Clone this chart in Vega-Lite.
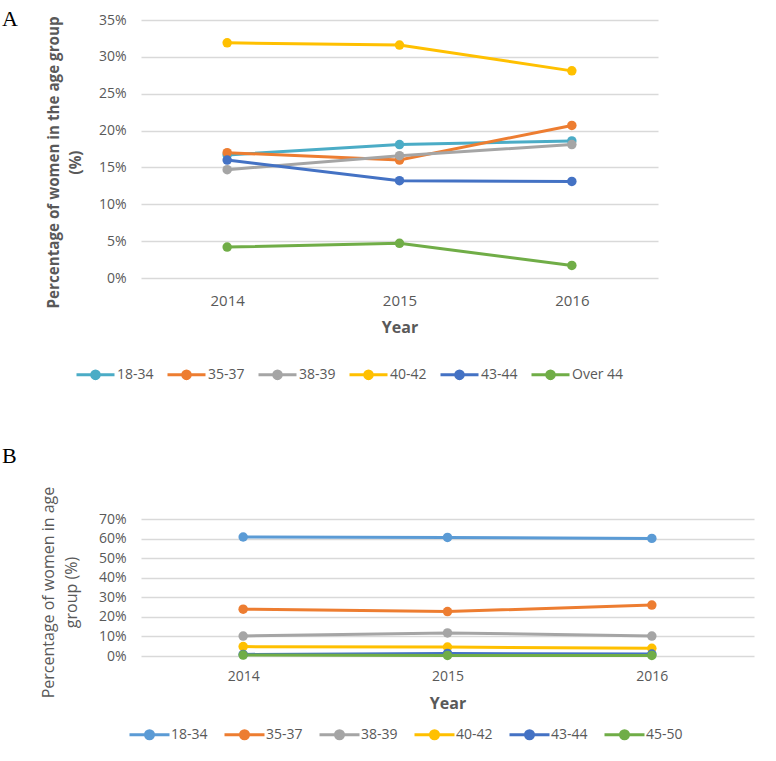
{
  "$schema": "https://vega.github.io/schema/vega-lite/v6.json",
  "padding": {"left": 2, "top": 8, "right": 5, "bottom": 5},
  "background": "white",
  "datasets": {
    "a": [
      {"year": "2014", "group": "18-34", "pct": 0.167},
      {"year": "2015", "group": "18-34", "pct": 0.181},
      {"year": "2016", "group": "18-34", "pct": 0.186},
      {"year": "2014", "group": "35-37", "pct": 0.170},
      {"year": "2015", "group": "35-37", "pct": 0.160},
      {"year": "2016", "group": "35-37", "pct": 0.207},
      {"year": "2014", "group": "38-39", "pct": 0.147},
      {"year": "2015", "group": "38-39", "pct": 0.166},
      {"year": "2016", "group": "38-39", "pct": 0.181},
      {"year": "2014", "group": "40-42", "pct": 0.319},
      {"year": "2015", "group": "40-42", "pct": 0.316},
      {"year": "2016", "group": "40-42", "pct": 0.281},
      {"year": "2014", "group": "43-44", "pct": 0.160},
      {"year": "2015", "group": "43-44", "pct": 0.132},
      {"year": "2016", "group": "43-44", "pct": 0.131},
      {"year": "2014", "group": "Over 44", "pct": 0.042},
      {"year": "2015", "group": "Over 44", "pct": 0.047},
      {"year": "2016", "group": "Over 44", "pct": 0.017}
    ],
    "b": [
      {"year": "2014", "group": "18-34", "pct": 0.608},
      {"year": "2015", "group": "18-34", "pct": 0.606},
      {"year": "2016", "group": "18-34", "pct": 0.601},
      {"year": "2014", "group": "35-37", "pct": 0.239},
      {"year": "2015", "group": "35-37", "pct": 0.227},
      {"year": "2016", "group": "35-37", "pct": 0.260},
      {"year": "2014", "group": "38-39", "pct": 0.102},
      {"year": "2015", "group": "38-39", "pct": 0.118},
      {"year": "2016", "group": "38-39", "pct": 0.102},
      {"year": "2014", "group": "40-42", "pct": 0.048},
      {"year": "2015", "group": "40-42", "pct": 0.046},
      {"year": "2016", "group": "40-42", "pct": 0.039},
      {"year": "2014", "group": "43-44", "pct": 0.008},
      {"year": "2015", "group": "43-44", "pct": 0.013},
      {"year": "2016", "group": "43-44", "pct": 0.010},
      {"year": "2014", "group": "45-50", "pct": 0.005},
      {"year": "2015", "group": "45-50", "pct": 0.003},
      {"year": "2016", "group": "45-50", "pct": 0.003}
    ]
  },
  "config": {
    "font": "Open Sans",
    "view": {"stroke": null},
    "axis": {
      "labelFont": "Open Sans",
      "titleFont": "Open Sans",
      "labelColor": "#595959",
      "titleColor": "#595959",
      "domain": false,
      "ticks": false,
      "tickSize": 0,
      "gridColor": "#D9D9D9",
      "gridWidth": 1.3,
      "labelFontSize": 14,
      "titleFontSize": 16,
      "titleFontWeight": "bold"
    },
    "legend": {
      "labelFont": "Open Sans",
      "labelFontSize": 14,
      "labelColor": "#595959",
      "padding": 0
    },
    "title": {
      "font": "Liberation Serif",
      "fontSize": 22,
      "fontWeight": "normal",
      "color": "#000000",
      "anchor": "start",
      "frame": "group"
    }
  },
  "bounds": "flush",
  "spacing": 241,
  "resolve": {"scale": {"color": "independent"}, "legend": {"color": "independent"}},
  "vconcat": [
    {
      "width": 517,
      "height": 258,
      "title": {"text": "A", "dx": -139, "offset": -18},
      "data": {"name": "a"},
      "encoding": {
        "x": {
          "field": "year", "type": "ordinal",
          "scale": {"type": "point", "padding": 0.5},
          "axis": {"title": "Year", "labelAngle": 0, "grid": false, "labelPadding": 15, "titlePadding": 11, "labelFontSize": 15}
        },
        "y": {
          "field": "pct", "type": "quantitative",
          "scale": {"domain": [0, 0.35]},
          "axis": {
            "values": [0, 0.05, 0.1, 0.15, 0.2, 0.25, 0.3, 0.35],
            "format": ".0%",
            "title": ["Percentage of women in the age group", "(%)"],
            "labelPadding": 15,
            "titlePadding": 15,
            "titleFontSize": 15.2,
            "titleLineHeight": 22,
            "titleY": 142
          }
        },
        "color": {
          "field": "group", "type": "nominal",
          "scale": {
            "domain": ["18-34", "35-37", "38-39", "40-42", "43-44", "Over 44"],
            "range": ["#4BACC6", "#ED7D31", "#A5A5A5", "#FFC000", "#4472C4", "#70AD47"]
          },
          "legend": {
            "orient": "none",
            "legendX": -66,
            "legendY": 334,
            "direction": "horizontal",
            "title": null,
            "symbolType": "M-1,0L1,0M-0.2,0A0.2,0.2,0,1,0,0.2,0A0.2,0.2,0,1,0,-0.2,0Z",
            "symbolSize": 1444,
            "symbolStrokeWidth": 3,
            "labelOffset": 1,
            "columnPadding": 7
          }
        }
      },
      "layer": [
        {"mark": {"type": "line", "strokeWidth": 3}},
        {"mark": {"type": "point", "filled": true, "size": 90, "opacity": 1}}
      ]
    },
    {
      "width": 613,
      "height": 137,
      "title": {"text": "B", "dx": -139, "offset": 18},
      "data": {"name": "b"},
      "encoding": {
        "x": {
          "field": "year", "type": "ordinal",
          "scale": {"type": "point", "padding": 0.5},
          "axis": {"title": "Year", "labelAngle": 0, "grid": false, "labelPadding": 13, "titlePadding": 12}
        },
        "y": {
          "field": "pct", "type": "quantitative",
          "scale": {"domain": [0, 0.7]},
          "axis": {
            "values": [0, 0.1, 0.2, 0.3, 0.4, 0.5, 0.6, 0.7],
            "format": ".0%",
            "title": ["Percentage of women in age", "group (%)"],
            "labelPadding": 15,
            "titlePadding": 19,
            "titleFontSize": 16,
            "titleFontWeight": "normal",
            "titleLineHeight": 23,
            "titleY": 73
          }
        },
        "color": {
          "field": "group", "type": "nominal",
          "scale": {
            "domain": ["18-34", "35-37", "38-39", "40-42", "43-44", "45-50"],
            "range": ["#5B9BD5", "#ED7D31", "#A5A5A5", "#FFC000", "#4472C4", "#70AD47"]
          },
          "legend": {
            "orient": "none",
            "legendX": -13,
            "legendY": 194,
            "direction": "horizontal",
            "title": null,
            "symbolType": "M-1,0L1,0M-0.2,0A0.2,0.2,0,1,0,0.2,0A0.2,0.2,0,1,0,-0.2,0Z",
            "symbolSize": 1600,
            "symbolStrokeWidth": 3,
            "labelOffset": 0,
            "columnPadding": 10
          }
        }
      },
      "layer": [
        {"mark": {"type": "line", "strokeWidth": 3}},
        {"mark": {"type": "point", "filled": true, "size": 90, "opacity": 1}}
      ]
    }
  ]
}
